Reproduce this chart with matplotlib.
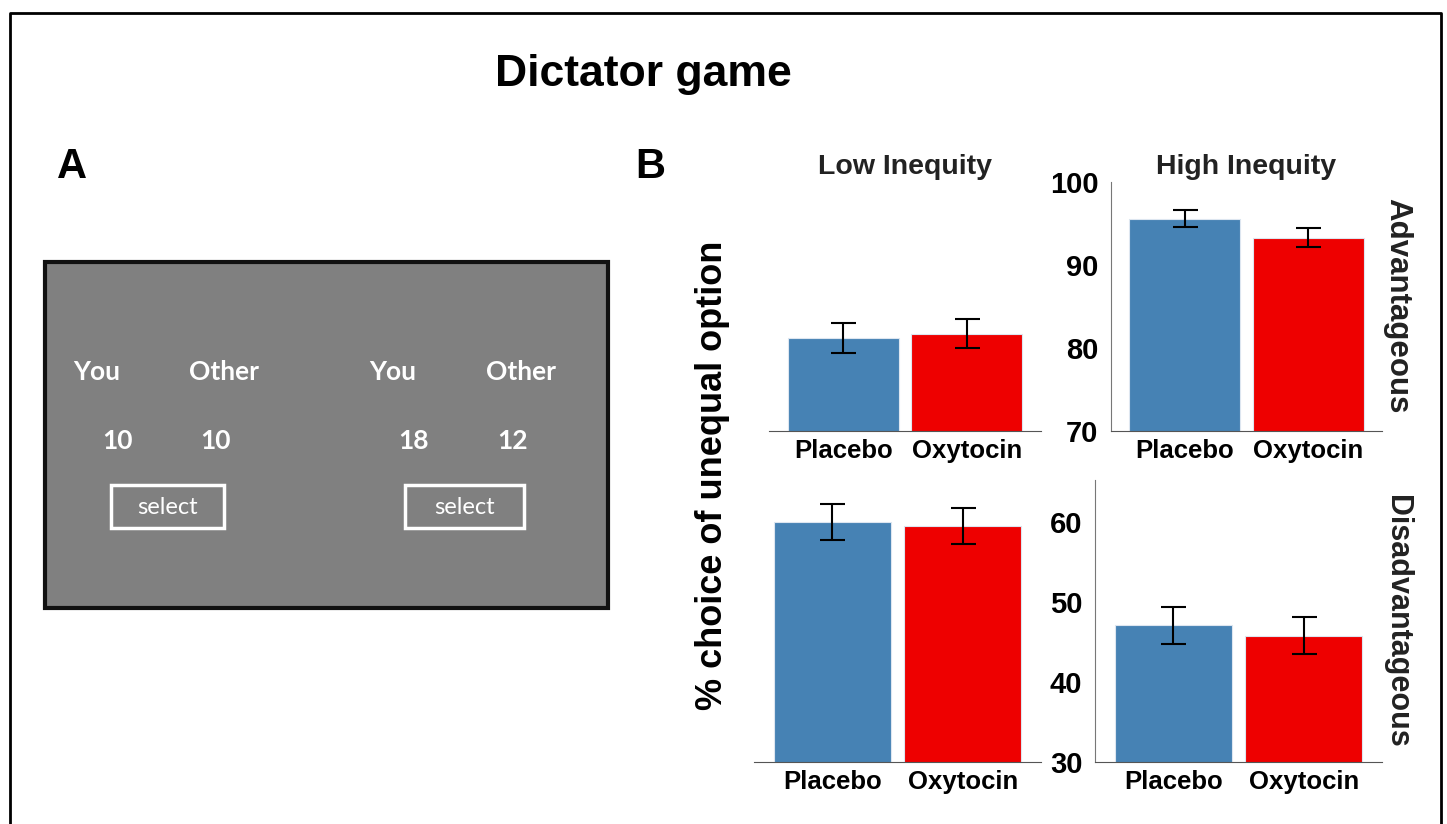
import matplotlib
matplotlib.use('Agg')
import matplotlib.pyplot as plt
from matplotlib.patches import Rectangle
import numpy as np

W, H = 1447, 824

conditions = ['Placebo', 'Oxytocin']
bar_colors = ['#4682B4', '#EE0000']

adv_low = [81.25, 81.7]
adv_low_err = [1.8, 1.75]
adv_high = [95.6, 93.3]
adv_high_err = [1.0, 1.1]
dis_low = [60.0, 59.5]
dis_low_err = [2.25, 2.2]
dis_high = [47.1, 45.8]
dis_high_err = [2.3, 2.3]

adv_ticks = [70, 80, 90, 100]
dis_ticks = [30, 40, 50, 60]

plt.rcParams['font.family'] = ['Liberation Sans', 'DejaVu Sans']

fig = plt.figure(figsize=(W / 100, H / 100), dpi=100)


def box(x0, y0, x1, y1):
    return [x0 / W, 1 - y1 / H, (x1 - x0) / W, (y1 - y0) / H]


# background canvas in pixel coords
bg = fig.add_axes([0, 0, 1, 1], zorder=0)
bg.set_xlim(0, W)
bg.set_ylim(H, 0)
bg.axis('off')
bg.plot([10, 10, 1441, 1441], [H + 5, 13, 13, H + 5], color='black', lw=2)
bg.text(643, 74, 'Dictator game', ha='center', va='center', fontsize=32, fontweight='bold')
bg.text(72, 167, 'A', ha='center', va='center', fontsize=30, fontweight='bold')
bg.text(650, 167, 'B', ha='center', va='center', fontsize=30, fontweight='bold')

# panel A: screen mock-up
bg.add_patch(Rectangle((45, 262), 563, 346, facecolor='#808080', edgecolor='#111111', lw=3))
a_font = dict(color='white', ha='center', va='center', family=['Lato', 'DejaVu Sans'])
for x, s in [(97, 'You'), (224, 'Other'), (393, 'You'), (521, 'Other')]:
    bg.text(x, 372, s, fontsize=19, fontweight='bold', **a_font)
for x, s in [(118, '10'), (216, '10'), (413, '18'), (513, '12')]:
    bg.text(x, 441, s, fontsize=19, fontweight='bold', **a_font)
for x0, x1 in [(111, 224), (405, 524)]:
    bg.add_patch(Rectangle((x0, 485), x1 - x0, 43, facecolor='none', edgecolor='white', lw=2.5))
    bg.text((x0 + x1) / 2, 507, 'select', fontsize=17, **a_font)

# panel B axes
panels = [
    (box(769, 182, 1041, 431), adv_low, adv_low_err, (70, 100), adv_ticks, False),
    (box(1111, 182, 1382, 431), adv_high, adv_high_err, (70, 100), adv_ticks, True),
    (box(754, 480, 1041, 762), dis_low, dis_low_err, (30, 65.25), dis_ticks, False),
    (box(1095, 480, 1382, 762), dis_high, dis_high_err, (30, 65.25), dis_ticks, True),
]
axes = []
for rect, vals, errs, ylim, ticks, show_y in panels:
    ax = fig.add_axes(rect, zorder=1)
    x = np.arange(len(conditions))
    ax.bar(x, vals, width=0.9, color=bar_colors, edgecolor='#dde6f0', linewidth=0.8)
    ax.errorbar(x, vals, yerr=errs, fmt='none', ecolor='black', elinewidth=1.5,
                capsize=9, capthick=1.5)
    ax.set_xlim(-0.6, 1.6)
    ax.set_ylim(*ylim)
    ax.set_xticks(x)
    ax.set_xticklabels(conditions, fontsize=18.5, fontweight='bold')
    ax.tick_params(axis='x', length=0, pad=6)
    for side in ['top', 'right']:
        ax.spines[side].set_visible(False)
    ax.spines['bottom'].set_color('#555555')
    ax.spines['left'].set_color('#777777')
    if show_y:
        ax.set_yticks(ticks)
        ax.set_yticklabels([str(t) for t in ticks], fontsize=21, fontweight='bold')
        ax.tick_params(axis='y', length=0, pad=9)
    else:
        ax.spines['left'].set_visible(False)
        ax.set_yticks([])
    ax.set_facecolor('none')
    axes.append(ax)

bg.text(905, 167, 'Low Inequity', ha='center', va='center', fontsize=20.5,
        fontweight='bold', color='#222222')
bg.text(1246, 167, 'High Inequity', ha='center', va='center', fontsize=20.5,
        fontweight='bold', color='#222222')

bg.text(712, 475, '% choice of unequal option', rotation=90, ha='center', va='center',
        fontsize=26, fontweight='bold')
bg.text(1397, 306, 'Advantageous', rotation=270, ha='center', va='center',
        fontsize=22.5, fontweight='bold', color='#222222')
bg.text(1397, 621, 'Disadvantageous', rotation=270, ha='center', va='center',
        fontsize=22, fontweight='bold', color='#222222')

fig.savefig('out.png', dpi=100)
